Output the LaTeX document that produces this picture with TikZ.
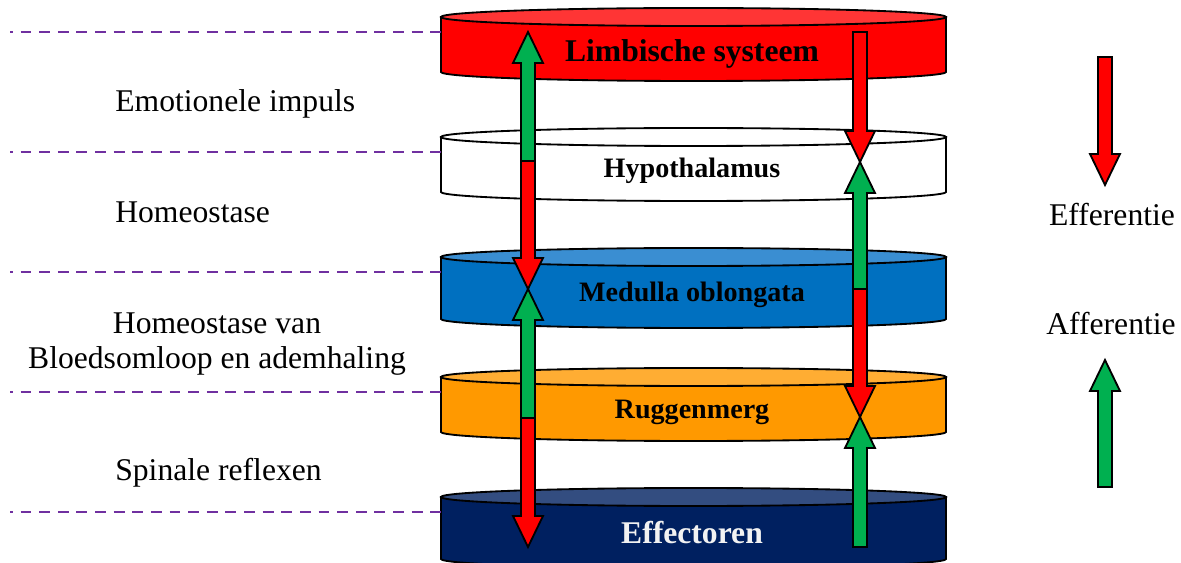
\documentclass[tikz,border=0pt]{standalone}
\usepackage{fontspec}
\setmainfont{Liberation Serif}
\usetikzlibrary{calc}

\definecolor{limbred}{HTML}{FF0000}
\definecolor{limbtop}{HTML}{FF3535}
\definecolor{medblue}{HTML}{0070C0}
\definecolor{medtop}{HTML}{3A8ED2}
\definecolor{rugorange}{HTML}{FF9900}
\definecolor{rugtop}{HTML}{FFAD33}
\definecolor{effnavy}{HTML}{002060}
\definecolor{efftop}{HTML}{334D80}
\definecolor{guidepurple}{HTML}{7030A0}
\definecolor{arrowred}{HTML}{FF0000}
\definecolor{arrowgreen}{HTML}{00B050}

% one layer of the stack: top y, height, side colour, top colour
\newcommand{\layerdisc}[4]{%
  \filldraw[discline, fill=#3] (441,#1) -- (441,#1-#2)
    arc[start angle=180, end angle=360, x radius=252.5, y radius=9]
    -- (946,#1) -- cycle;
  \filldraw[discline, fill=#4] (693.5,#1) ellipse [x radius=252.5, y radius=9];
}

\begin{document}
\begin{tikzpicture}[x=0.02cm, y=0.02cm, font=\fontsize{18}{19.8}\selectfont,
  discline/.style={draw=black, line width=1.05pt},
  level/.style={inner sep=0pt, anchor=base, font=\fontsize{16}{19}\selectfont\bfseries},
  biglevel/.style={level, font=\fontsize{18}{20}\selectfont\bfseries},
  note/.style={inner sep=0pt, anchor=base west},
  guide/.style={draw=guidepurple, line width=1.15pt, dash pattern=on 6.2pt off 4.4pt, dash phase=4.6pt},
  blockarrow/.style={draw=black, line width=1.05pt, line join=miter,
    to path={
      ($(\tikztostart)!0.14cm!90:(\tikztotarget)$)
      -- ($($(\tikztotarget)!0.62cm!(\tikztostart)$)!0.14cm!-90:(\tikztostart)$)
      -- ($($(\tikztotarget)!0.62cm!(\tikztostart)$)!0.30cm!-90:(\tikztostart)$)
      -- (\tikztotarget)
      -- ($($(\tikztotarget)!0.62cm!(\tikztostart)$)!0.30cm!90:(\tikztostart)$)
      -- ($($(\tikztotarget)!0.62cm!(\tikztostart)$)!0.14cm!90:(\tikztostart)$)
      -- ($(\tikztostart)!0.14cm!-90:(\tikztotarget)$)
      -- cycle}},
  efferent/.style={blockarrow, fill=arrowred},
  afferent/.style={blockarrow, fill=arrowgreen}
]
\useasboundingbox (0,0) rectangle (1181,562);

% the five layers
\layerdisc{545}{55}{limbred}{limbtop}
\layerdisc{425}{55}{white}{white}
\layerdisc{305}{62}{medblue}{medtop}
\layerdisc{185}{55}{rugorange}{rugtop}
\layerdisc{65}{62}{effnavy}{efftop}

\node[biglevel] (limbic) at (692,500) {Limbische systeem};
\node[level] (hypo) at (692,384) {Hypothalamus};
\node[level] (medulla) at (692,260) {Medulla oblongata};
\node[level] (spine) at (692,144) {Ruggenmerg};
\node[biglevel, text=white!95!black] (effector) at (692,19) {Effectoren};

% guide lines
\draw[guide] (10,530) -- (441,530);
\draw[guide] (10,410) -- (441,410);
\draw[guide] (10,290) -- (441,290);
\draw[guide] (10,170) -- (441,170);
\draw[guide] (10,50) -- (441,50);

\node[note] (emotion) at (115,450) {Emotionele impuls};
\node[note] (homeo) at (115,339) {Homeostase};
\node[inner sep=0pt, anchor=base, align=center] (circulation) at (217,194)
  {Homeostase van\\Bloedsomloop en ademhaling};
\node[note] (reflex) at (115,82) {Spinale reflexen};

% arrow ends
\coordinate (l-top) at (528,530);
\coordinate (l-hyp) at (528,401);
\coordinate (l-med) at (528,273);
\coordinate (l-rug) at (528,144);
\coordinate (l-eff) at (528,15);
\coordinate (r-top) at (860,530);
\coordinate (r-hyp) at (860,400);
\coordinate (r-med) at (860,273);
\coordinate (r-rug) at (860,145);
\coordinate (r-eff) at (860,15);

\draw[efferent] (l-hyp) to (l-med);
\draw[afferent] (l-hyp) to (l-top);
\draw[efferent] (l-rug) to (l-eff);
\draw[afferent] (l-rug) to (l-med);
\draw[efferent] (r-top) to (r-hyp);
\draw[efferent] (r-med) to (r-rug);
\draw[afferent] (r-med) to (r-hyp);
\draw[afferent] (r-eff) to (r-rug);

% legend
\coordinate (eff-tail) at (1105,505);
\coordinate (eff-tip) at (1105,377);
\coordinate (aff-tail) at (1105,75);
\coordinate (aff-tip) at (1105,202);
\draw[efferent] (eff-tail) to (eff-tip);
\draw[afferent] (aff-tail) to (aff-tip);
\node[inner sep=0pt, anchor=base] (efflabel) at (1112,336) {Efferentie};
\node[inner sep=0pt, anchor=base] (afflabel) at (1111,227) {Afferentie};

\end{tikzpicture}
\end{document}
